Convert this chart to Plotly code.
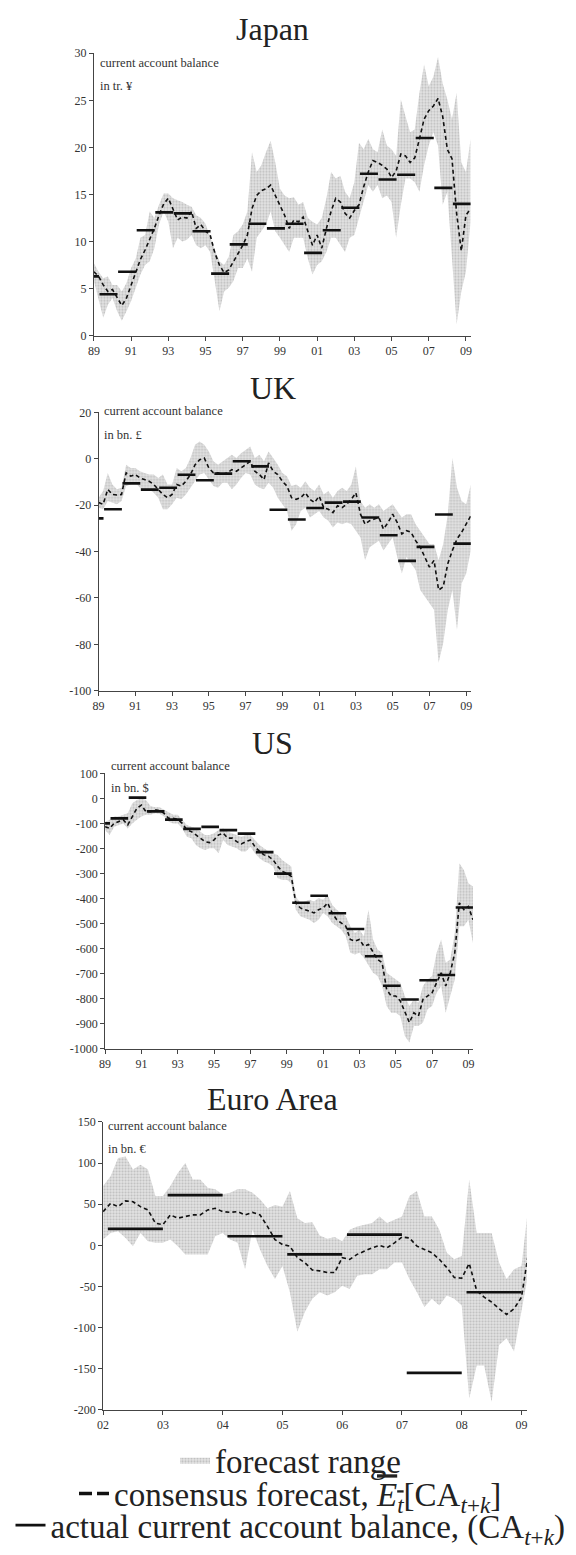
import plotly.graph_objects as go

W, H = 576, 1555
FONT = "Liberation Serif, Times New Roman, serif"

# ---------------- data ----------------
# quarterly time grid 1989.00 .. 2009.25 (Japan, UK, US)
t_q = [1989 + 0.25 * i for i in range(82)]
# eighth-year grid 2002.000 .. 2009.125 (Euro Area)
t_e = [2002 + 0.125 * i for i in range(58)]

# Japan, tr. yen
jp_mean = [6.8, 6.3, 5.4, 4.7, 4.9, 4.0, 3.2, 4.0, 5.4, 6.8, 8.1, 9.1,
           10.2, 11.4, 12.8, 14.0, 14.6, 13.5, 12.3, 12.6, 12.5, 13.2, 11.4, 11.8,
           11.1, 10.7, 8.8, 7.5, 6.7, 7.0, 7.9, 8.8, 9.6, 10.7, 13.5, 14.9,
           15.4, 15.6, 16.0, 14.9, 13.9, 12.8, 11.4, 12.3, 12.1, 12.6, 11.1, 9.6,
           10.7, 9.3, 11.4, 13.2, 14.6, 14.2, 13.0, 12.5, 13.3, 13.9, 15.8, 17.4,
           18.6, 18.4, 18.1, 17.7, 16.8, 17.5, 19.3, 19.1, 18.4, 18.9, 20.9, 23.0,
           23.9, 24.4, 25.2, 23.3, 19.8, 18.8, 13.0, 9.0, 12.8, 13.5]
jp_high = [7.7, 6.8, 6.1, 6.3, 5.4, 5.4, 4.7, 5.6, 7.2, 8.2, 10.4, 10.7,
           13.2, 12.5, 13.9, 15.1, 15.1, 14.6, 14.4, 14.2, 13.9, 13.7, 12.8, 12.5,
           11.9, 10.4, 9.1, 7.9, 7.5, 8.4, 10.7, 11.1, 11.8, 13.2, 19.5, 17.4,
           18.1, 19.5, 20.7, 18.4, 15.6, 14.9, 14.6, 14.7, 13.9, 14.2, 12.5, 12.1,
           11.8, 12.5, 14.6, 17.4, 16.7, 17.0, 15.3, 14.6, 16.3, 20.5, 19.8, 20.9,
           19.8, 19.5, 21.9, 20.2, 19.8, 19.1, 25.1, 23.3, 21.6, 21.9, 25.8, 28.8,
           26.5, 27.5, 29.6, 26.8, 25.1, 23.0, 25.8, 18.4, 17.4, 20.9]
jp_low = [5.8, 4.0, 1.9, 3.3, 4.0, 2.6, 1.6, 2.6, 3.7, 5.1, 6.5, 7.5,
          7.9, 9.3, 11.8, 13.2, 12.1, 9.3, 10.4, 10.0, 10.2, 10.7, 9.6, 9.3,
          9.6, 8.9, 5.8, 2.6, 4.7, 5.1, 5.8, 7.2, 7.2, 8.2, 6.8, 10.4,
          11.1, 11.8, 13.2, 11.1, 10.4, 9.6, 8.9, 10.4, 10.4, 10.4, 8.2, 6.5,
          7.5, 7.9, 8.9, 10.4, 10.4, 9.6, 8.9, 10.4, 10.7, 12.5, 14.2, 16.0,
          15.3, 16.0, 14.6, 14.9, 14.2, 10.4, 13.9, 16.7, 16.7, 16.3, 15.3, 18.1,
          20.2, 21.6, 20.2, 13.9, 15.3, 8.2, 1.2, 4.7, 6.8, 12.1]
jp_actual = [6.3, 4.4, 6.8, 11.2, 13.1, 13.0, 11.1, 6.6, 9.7, 11.9, 11.4,
             11.9, 8.8, 11.2, 13.6, 17.2, 16.6, 17.1, 21.0, 15.7, 14.0]

# UK, bn. pound
uk_mean = [-18.9, -19.6, -13.2, -15.4, -15.6, -15.4, -6.1, -7.5, -6.8, -8.3, -9.0, -9.7,
           -11.1, -13.2, -15.4, -16.8, -15.4, -11.1, -11.8, -9.7, -6.8, -2.6, -0.4, 0.3,
           -4.0, -6.1, -6.1, -6.8, -6.1, -4.7, -5.4, -4.0, -2.6, -1.1, -5.4, -6.8,
           -9.0, -1.8, -5.4, -6.8, -9.7, -11.8, -16.8, -17.5, -16.8, -14.7, -17.5, -18.9,
           -16.1, -21.1, -21.8, -23.2, -20.3, -21.1, -19.6, -17.5, -14.7, -23.9, -28.2, -26.7,
           -26.0, -25.3, -30.3, -27.5, -23.9, -27.5, -32.4, -31.0, -31.7, -35.3, -38.1, -42.4,
           -46.7, -43.8, -56.6, -55.2, -45.2, -39.5, -34.6, -31.7, -28.2, -24.6]
uk_high = [-16.8, -13.9, -6.1, -11.1, -13.2, -12.5, -2.6, -4.0, -4.0, -5.4, -6.1, -6.8,
           -6.8, -8.3, -6.8, -11.1, -11.1, -4.0, -5.4, -4.0, 0.3, 6.0, 7.4, 6.0,
           3.1, -1.1, -2.6, -1.1, 0.3, 1.7, 0.3, 2.4, 3.8, 5.3, 0.3, 1.7,
           -1.1, 3.1, 0.3, -2.6, -6.1, -7.5, -11.8, -11.1, -12.5, -9.7, -12.5, -13.9,
           -11.1, -15.4, -13.9, -16.8, -13.9, -12.5, -13.9, -11.1, -3.3, -18.2, -21.1, -19.6,
           -21.1, -19.6, -22.5, -21.1, -19.6, -22.5, -25.3, -23.9, -23.9, -28.2, -31.0, -33.9,
           -36.7, -36.7, -43.8, -36.7, -23.9, 0.3, -12.5, -18.2, -19.6, -11.1]
uk_low = [-21.1, -21.8, -18.2, -18.9, -19.6, -18.2, -11.8, -11.1, -10.4, -12.5, -13.9, -13.2,
          -14.7, -16.8, -21.8, -21.8, -19.6, -16.8, -17.5, -15.4, -12.5, -9.7, -6.8, -6.1,
          -9.0, -11.8, -12.5, -10.4, -10.4, -13.2, -11.1, -8.3, -6.1, -6.8, -11.1, -12.5,
          -13.2, -10.4, -12.5, -16.8, -19.6, -22.5, -31.0, -28.2, -22.5, -21.1, -25.3, -23.9,
          -22.5, -25.3, -26.7, -29.6, -27.5, -28.2, -27.5, -28.2, -31.0, -33.9, -43.8, -38.1,
          -36.7, -35.3, -39.5, -36.7, -33.9, -42.4, -49.5, -42.4, -45.2, -48.0, -56.6, -59.5,
          -62.3, -65.1, -87.9, -79.4, -65.1, -56.6, -73.7, -53.8, -49.5, -39.5]
uk_actual = [-25.7, -21.8, -10.6, -13.3, -12.5, -6.9, -9.3, -6.4, -1.1, -3.3, -22.0,
             -26.2, -21.2, -18.9, -18.5, -25.3, -33.0, -44.0, -38.0, -24.0, -36.6]

# US, bn. dollar
us_mean = [-113, -120, -100, -93, -86, -106, -73, -40, -27, -53, -53, -46,
           -49, -60, -80, -80, -84, -100, -126, -133, -146, -159, -173, -177,
           -166, -146, -139, -159, -159, -173, -182, -173, -166, -193, -212, -226,
           -232, -246, -272, -292, -299, -312, -418, -438, -445, -452, -458, -445,
           -438, -418, -458, -485, -498, -511, -564, -571, -564, -591, -584, -617,
           -644, -657, -764, -790, -790, -810, -857, -896, -857, -870, -803, -790,
           -777, -737, -697, -750, -697, -617, -418, -445, -432, -485]
us_high = [-93, -86, -73, -73, -66, -60, -20, -7, 0, -7, -31, -36,
           -36, -46, -53, -66, -66, -86, -106, -113, -120, -133, -146, -146,
           -139, -126, -120, -133, -139, -146, -153, -146, -146, -166, -186, -199,
           -212, -219, -226, -246, -259, -272, -392, -418, -412, -405, -412, -398,
           -405, -385, -425, -445, -458, -471, -511, -538, -525, -551, -445, -564,
           -604, -617, -697, -710, -724, -737, -790, -830, -803, -817, -750, -724,
           -710, -617, -564, -657, -644, -538, -259, -286, -339, -352]
us_low = [-126, -146, -113, -106, -100, -120, -100, -86, -73, -66, -66, -60,
          -62, -73, -93, -100, -100, -120, -153, -159, -186, -199, -206, -199,
          -199, -219, -166, -186, -193, -199, -212, -212, -193, -219, -239, -252,
          -259, -272, -319, -325, -325, -339, -445, -471, -478, -485, -498, -485,
          -458, -471, -498, -511, -525, -551, -617, -624, -617, -637, -670, -697,
          -710, -750, -830, -857, -857, -870, -950, -976, -910, -910, -896, -843,
          -830, -777, -750, -857, -790, -724, -511, -511, -485, -578]
us_actual = [-100, -80, 3, -52, -85, -122, -114, -127, -141, -215, -301,
             -417, -389, -459, -522, -631, -749, -804, -727, -706, -436]

# Euro Area, bn. euro
ea_mean = [41, 51, 47, 54, 53, 47, 43, 27, 25, 37, 33, 35, 37, 37, 43, 45,
           41, 40, 41, 37, 40, 37, 23, 7, 1, -1, -15, -21, -30, -31, -33, -33,
           -15, -17, -11, -7, -3, 0, -3, 3, 10, 9, -1, -5, -9, -17, -27, -39,
           -40, -22, -55, -63, -69, -77, -84, -77, -63, -5]
ea_high = [72, 84, 106, 108, 92, 98, 92, 60, 60, 72, 88, 100, 80, 80, 70, 68,
           62, 64, 68, 68, 64, 56, 45, 49, 47, 66, 33, 27, 28, 12, 8, 10,
           5, 19, 23, 25, 27, 35, 27, 31, 35, 60, 66, 35, 35, 19, -9, -17,
           -13, 80, 15, 15, 15, -21, -41, -29, -25, 55]
ea_low = [7, 15, 17, 9, -1, 15, 5, 3, 3, 7, -1, -11, -11, -11, -11, 11,
          15, 7, 3, -29, 19, -5, -25, -41, -25, -57, -105, -81, -65, -57, -61, -57,
          -49, -53, -37, -35, -35, -29, -29, -21, -21, -41, -57, -75, -65, -73, -61, -65,
          -73, -186, -146, -146, -190, -121, -113, -129, -81, -30]
ea_actual = [20, 61, 11, -11, 13, -155, -57]

act_years_89 = list(range(1988, 2009))
act_years_02 = list(range(2002, 2009))

# tick labels
jp_yticks = [0, 5, 10, 15, 20, 25, 30]
uk_yticks = [-100, -80, -60, -40, -20, 0, 20]
us_yticks = [-1000, -900, -800, -700, -600, -500, -400, -300, -200, -100, 0, 100]
ea_yticks = [-200, -150, -100, -50, 0, 50, 100, 150]
xt_89 = [1989, 1991, 1993, 1995, 1997, 1999, 2001, 2003, 2005, 2007, 2009]
xt_02 = [2002, 2003, 2004, 2005, 2006, 2007, 2008, 2009]

titles = ["Japan", "UK", "US", "Euro Area"]
units = ["in tr. ¥", "in bn. £", "in bn. $", "in bn. €"]

# ---------------- layout geometry (pixels) ----------------
boxes = [(89, 470.3, 46.7, 331.7),
         (93.7, 470.5, 409, 690),
         (100.3, 472.7, 773.3, 1051),
         (98.3, 527.3, 1125, 1415.7)]
title_y = [22, 384, 743, 1102]
unit_pos = [(93, 57, 80), (97.3, 408, 432), (104.3, 765.7, 788.3), (101.7, 1129.3, 1152.7)]
legend_y = [1466, 1500, 1532]

def px(x):
    return x / W

def py(y):
    return 1 - y / H

FILL_PATTERN = dict(shape=".", fgcolor="#969696", bgcolor="#e4e4e4", size=3, solidity=0.4)

panels = [
    (t_q, jp_mean, jp_high, jp_low, act_years_89, jp_actual, 0.3, 1.27, [1989, 2009.25], xt_89, jp_yticks),
    (t_q, uk_mean, uk_high, uk_low, act_years_89, uk_actual, 0.3, 1.27, [1989, 2009.25], xt_89, uk_yticks),
    (t_q, us_mean, us_high, us_low, act_years_89, us_actual, 0.3, 1.27, [1989, 2009.25], xt_89, us_yticks),
    (t_e, ea_mean, ea_high, ea_low, act_years_02, ea_actual, 0.08, 1.0, [2002, 2009.09], xt_02, ea_yticks),
]

fig = go.Figure()
annotations = []

for i, (t, mean, high, low, ayears, aval, off0, off1, xr, xt, yt) in enumerate(panels):
    n = "" if i == 0 else str(i + 1)
    xa, ya = "x" + n, "y" + n
    fig.add_trace(go.Scatter(x=t, y=low, xaxis=xa, yaxis=ya, mode="lines",
                             line=dict(width=0, color="rgba(0,0,0,0)"),
                             showlegend=False, hoverinfo="skip"))
    fig.add_trace(go.Scatter(x=t, y=high, xaxis=xa, yaxis=ya, mode="lines",
                             line=dict(width=0, color="rgba(0,0,0,0)"),
                             fill="tonexty", fillcolor="#d8d8d8", fillpattern=FILL_PATTERN,
                             name="forecast range", legend="legend",
                             showlegend=(i == 0), hoverinfo="skip"))
    fig.add_trace(go.Scatter(x=t, y=mean, xaxis=xa, yaxis=ya, mode="lines",
                             line=dict(color="#111", width=1.6, dash="4px,3px"),
                             showlegend=False))
    bx, by = [], []
    for yr, v in zip(ayears, aval):
        bx += [yr + off0, yr + off1, None]
        by += [v, v, None]
    fig.add_trace(go.Scatter(x=bx, y=by, xaxis=xa, yaxis=ya, mode="lines",
                             line=dict(color="#111", width=2.6),
                             showlegend=False, connectgaps=False))

    l, r, tp, bt = boxes[i]
    axis_common = dict(showline=True, linecolor="#444", linewidth=1, ticks="outside",
                       ticklen=4, tickcolor="#444", showgrid=False, zeroline=False,
                       tickfont=dict(family=FONT, size=12, color="#333"))
    fig.update_layout(**{
        ("xaxis" + n): dict(domain=[px(l), px(r)], anchor=ya, range=xr,
                            tickvals=xt, ticktext=["%02d" % (v % 100) for v in xt],
                            **axis_common),
        ("yaxis" + n): dict(domain=[py(bt), py(tp)], anchor=xa, range=[yt[0], yt[-1]],
                            tickvals=yt, ticktext=[str(v) for v in yt],
                            **axis_common),
    })
    annotations.append(dict(text=titles[i], x=px(270), y=py(title_y[i]), xref="paper", yref="paper",
                            xanchor="center", yanchor="middle", showarrow=False,
                            font=dict(family=FONT, size=32, color="#222")))
    ux, uy1, uy2 = unit_pos[i]
    annotations.append(dict(text="current account balance", x=px(ux), y=py(uy1), xref="paper",
                            yref="paper", xanchor="left", yanchor="middle", showarrow=False,
                            font=dict(family=FONT, size=12.5, color="#333")))
    annotations.append(dict(text=units[i], x=px(ux), y=py(uy2), xref="paper",
                            yref="paper", xanchor="left", yanchor="middle", showarrow=False,
                            font=dict(family=FONT, size=12.5, color="#333")))

fig.add_trace(go.Scatter(x=[None], y=[None], mode="lines",
                         line=dict(color="#111", width=3.5, dash="13px,5px"),
                         name="consensus forecast, <span style='text-decoration:overline'><i>E</i><sub><i>t</i></sub></span>[CA<sub><i>t</i>+<i>k</i></sub>]",
                         legend="legend2", showlegend=True))
fig.add_trace(go.Scatter(x=[None], y=[None], mode="lines",
                         line=dict(color="#111", width=2.6),
                         name="actual current account balance, (CA<sub><i>t</i>+<i>k</i></sub>)",
                         legend="legend3", showlegend=True))

leg_common = dict(x=0.5, xanchor="center", yanchor="middle", bgcolor="rgba(0,0,0,0)",
                  font=dict(family=FONT, size=33, color="#222"), borderwidth=0,
                  itemclick=False, itemdoubleclick=False)
fig.update_layout(
    width=W, height=H, margin=dict(l=0, r=0, t=0, b=0),
    paper_bgcolor="white", plot_bgcolor="white",
    annotations=annotations,
    legend=dict(y=py(legend_y[0]), **leg_common),
    legend2=dict(y=py(legend_y[1]), **leg_common),
    legend3=dict(y=py(legend_y[2]), **leg_common),
)

fig.write_html("out.html", config={"displayModeBar": False},
               post_script="document.body.style.margin='0';document.body.style.padding='0';")
